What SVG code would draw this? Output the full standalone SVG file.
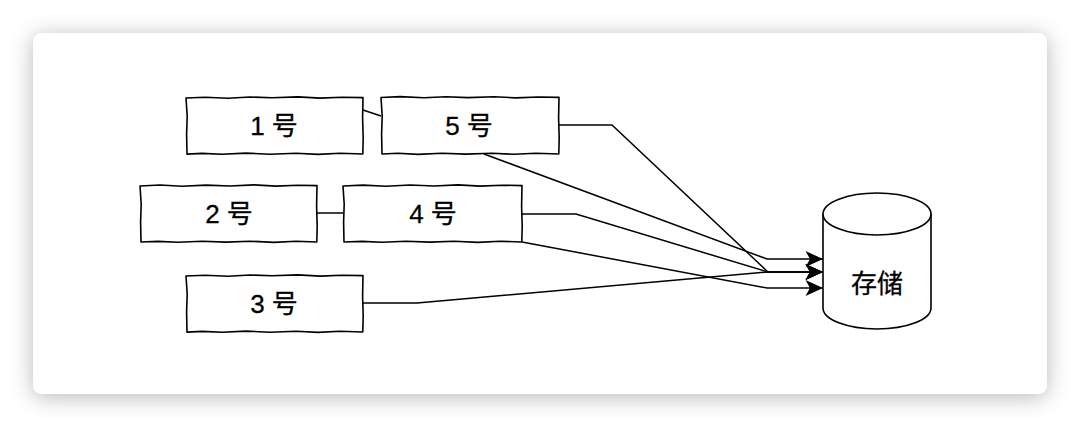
<svg xmlns="http://www.w3.org/2000/svg" width="1080" height="428" viewBox="0 0 1080 428">
  <style>
    .box { fill: #ffffff; stroke: #000000; stroke-width: 1.6; stroke-linejoin: round; }
    .label { font-family: "Liberation Sans", "Noto Sans CJK SC", sans-serif; font-size: 26px; fill: #000000; text-anchor: middle; stroke: #000000; stroke-width: 0.3; }
    .edge { fill: none; stroke: #000000; stroke-width: 1.5; stroke-linejoin: miter; }
  </style>
  <defs>
    <filter id="cardShadow" x="-10%" y="-20%" width="120%" height="140%">
      <feDropShadow dx="0" dy="3" stdDeviation="11" flood-color="#000000" flood-opacity="0.28"/>
    </filter>
    <marker id="arrow" markerUnits="userSpaceOnUse" viewBox="0 0 18 17" markerWidth="18" markerHeight="17" refX="17.5" refY="8.5" orient="auto" overflow="visible">
      <path d="M0,0.5 L17.5,8.5 L0,16.5 L4.5,8.5 Z" fill="#000000"/>
    </marker>
  </defs>

  <rect width="1080" height="428" fill="#ffffff"/>
  <!-- card -->
  <rect x="33" y="33" width="1014" height="361" rx="9" ry="9" fill="#ffffff" filter="url(#cardShadow)"/>

  <!-- connectors -->
  <g id="connectors">
    <path class="edge" d="M363,110 L381,116"/>
    <path class="edge" d="M317,213 L343,213"/>
    <path class="edge" d="M559,125 L612,125 L768,272 L823,272" marker-end="url(#arrow)"/>
    <path class="edge" d="M484,154 L767,259 L823,259" marker-end="url(#arrow)"/>
    <path class="edge" d="M522,214 L576,214 L768,272 L823,272" marker-end="url(#arrow)"/>
    <path class="edge" d="M522,242 L767,288 L823,288" marker-end="url(#arrow)"/>
    <path class="edge" d="M363,303 L417,303 L768,272 L823,272" marker-end="url(#arrow)"/>
  </g>

  <!-- node 1 -->
  <g id="node-1">
    <path class="box" d="M186,98 L205,97.2 L228,98.3 L250,97 L272,97.8 L298,96.9 L320,98.1 L342,97.2 L363,97.6 L362.6,118 L363.2,138 L362.8,154 L340,153.2 L318,154.4 L296,153.3 L270,154.2 L246,153.1 L222,154.3 L202,153.4 L187,154.1 L186.6,134 L187.2,116 Z"/>
    <text class="label" x="274" y="135">1 号</text>
  </g>

  <!-- node 5 -->
  <g id="node-5">
    <path class="box" d="M381,97.5 L400,96.6 L424,97.8 L446,96.8 L468,97.6 L494,96.7 L516,97.9 L538,97 L559,97.4 L558.6,118 L559.2,138 L558.8,154 L536,153.3 L514,154.3 L492,153.2 L466,154.1 L442,153.2 L418,154.4 L398,153.3 L382,154 L381.6,134 L382.2,116 Z"/>
    <text class="label" x="469" y="135">5 号</text>
  </g>

  <!-- node 2 -->
  <g id="node-2">
    <path class="box" d="M140,186 L160,185 L182,186.2 L206,185.1 L230,186 L254,184.9 L276,186.1 L298,185.2 L317,185.6 L316.6,206 L317.2,226 L316.8,242 L296,241.3 L274,242.4 L250,241.2 L226,242.1 L202,241.2 L178,242.3 L158,241.4 L141,242 L140.6,222 L141.2,204 Z"/>
    <text class="label" x="229" y="223">2 号</text>
  </g>

  <!-- node 4 -->
  <g id="node-4">
    <path class="box" d="M343,186 L363,185.1 L386,186.2 L410,185 L434,186 L458,184.9 L480,186.1 L502,185.2 L522,185.6 L521.6,206 L522.2,226 L521.8,242 L500,241.3 L478,242.4 L454,241.2 L430,242.1 L406,241.2 L382,242.3 L362,241.4 L344,242 L343.6,222 L344.2,204 Z"/>
    <text class="label" x="433" y="223">4 号</text>
  </g>

  <!-- node 3 -->
  <g id="node-3">
    <path class="box" d="M186,276 L205,275.2 L228,276.3 L250,275 L272,275.8 L298,274.9 L320,276.1 L342,275.2 L363,275.6 L362.6,296 L363.2,316 L362.8,332 L340,331.2 L318,332.4 L296,331.3 L270,332.2 L246,331.1 L222,332.3 L202,331.4 L187,332.1 L186.6,312 L187.2,294 Z"/>
    <text class="label" x="274" y="313">3 号</text>
  </g>

  <!-- storage -->
  <g id="storage">
    <path class="box" d="M823,214 A54,21 0 0 1 931,214 L931,308 A54,21 0 0 1 823,308 Z"/>
    <path class="box" fill="none" d="M823,214 A54,21 0 0 0 931,214"/>
    <text class="label" x="877" y="293">存储</text>
  </g>
</svg>
